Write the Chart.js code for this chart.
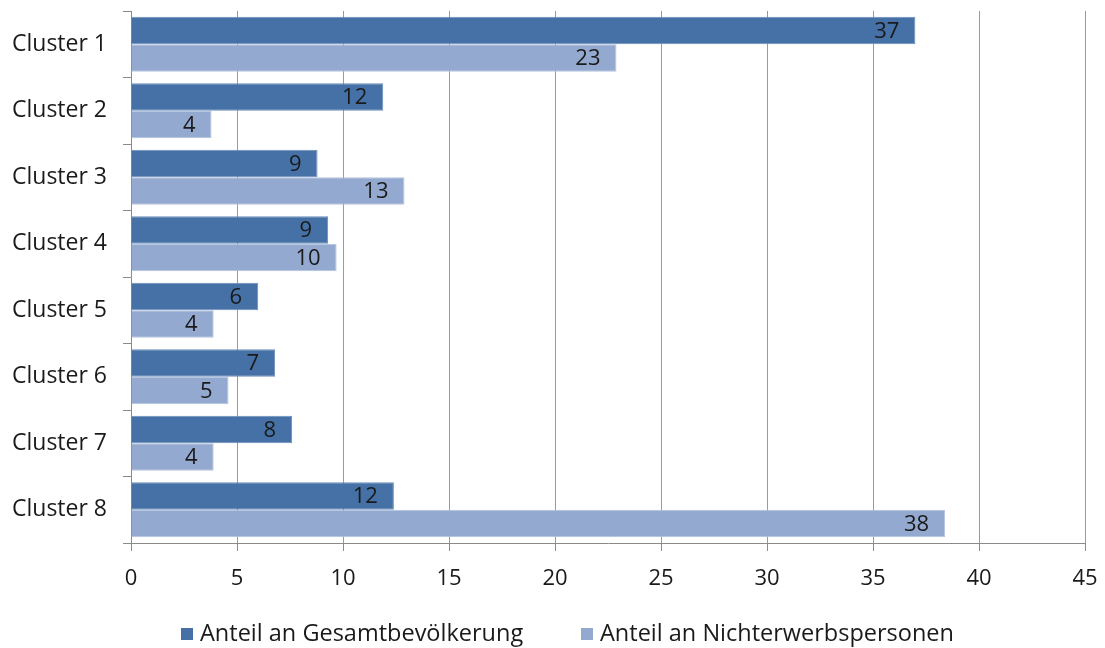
<!DOCTYPE html>
<html>
<head>
<meta charset="utf-8">
<script src="https://cdn.jsdelivr.net/npm/chart.js@4/dist/chart.umd.min.js"></script>
<style>
  html, body { margin: 0; padding: 0; background: #fff; }
  #wrap { width: 1105px; height: 648px; }
</style>
</head>
<body>
<div id="wrap"><canvas id="chart" width="1105" height="648"></canvas></div>
<script>
// Daten
const clusters = ["Cluster 1", "Cluster 2", "Cluster 3", "Cluster 4", "Cluster 5", "Cluster 6", "Cluster 7", "Cluster 8"];
const gesamtbevoelkerung = [37.0, 11.9, 8.8, 9.3, 6.0, 6.8, 7.6, 12.4];
const nichterwerbspersonen = [22.9, 3.8, 12.9, 9.7, 3.9, 4.6, 3.9, 38.4];
const seriesNames = ["Anteil an Gesamtbevölkerung", "Anteil an Nichterwerbspersonen"];
const xMax = 45;
const xStep = 5;

const FONT = "'Open Sans', 'DejaVu Sans', sans-serif";
const TXT = "#1a1a1a";

// Werte am Balkenende (innen) zeichnen
const barLabels = {
    id: "barLabels",
    afterDatasetsDraw(chart) {
        const ctx = chart.ctx;
        ctx.save();
        ctx.font = "22px " + FONT;
        ctx.fillStyle = TXT;
        ctx.textAlign = "right";
        ctx.textBaseline = "middle";
        chart.data.datasets.forEach((ds, i) => {
            chart.getDatasetMeta(i).data.forEach((bar, j) => {
                ctx.fillText(Math.round(ds.data[j]), bar.x - 16, bar.y + 1);
            });
        });
        ctx.restore();
    }
};

// Legende unten, selbst gezeichnet (Abstand wie im Original)
const bottomLegend = {
    id: "bottomLegend",
    afterDraw(chart) {
        const ctx = chart.ctx;
        const starts = [181, 581];
        const y = 634;
        ctx.save();
        ctx.font = "23.5px " + FONT;
        ctx.textBaseline = "middle";
        ctx.textAlign = "left";
        chart.data.datasets.forEach((ds, i) => {
            ctx.fillStyle = ds.backgroundColor;
            ctx.fillRect(starts[i], y - 6, 12, 12);
            ctx.fillStyle = TXT;
            ctx.fillText(ds.label, starts[i] + 19, y);
        });
        ctx.restore();
    }
};

new Chart(document.getElementById("chart"), {
    type: "bar",
    data: {
        labels: clusters,
        datasets: [
            { label: seriesNames[0], data: gesamtbevoelkerung, backgroundColor: "#4571a6", borderColor: "#6a8ebc", borderWidth: 1 },
            { label: seriesNames[1], data: nichterwerbspersonen, backgroundColor: "#93a9cf", borderColor: "#b3c4e0", borderWidth: 1 }
        ]
    },
    options: {
        indexAxis: "y",
        responsive: false,
        animation: false,
        layout: { padding: { top: 11, right: 20, left: 0, bottom: 45 } },
        datasets: { bar: { categoryPercentage: 0.83, barPercentage: 1.0 } },
        plugins: {
            legend: { display: false },
            tooltip: { enabled: false }
        },
        scales: {
            x: {
                min: 0,
                max: xMax,
                ticks: { stepSize: xStep, font: { family: FONT, size: 22 }, color: TXT, padding: 15 },
                grid: {
                    color: c => c.tick && c.tick.value === 0 ? "rgba(0,0,0,0)" : "#9a9a9a",
                    borderDash: [3, 3],
                    tickBorderDash: [],
                    tickColor: "#8a8a8a",
                    tickLength: 8,
                    lineWidth: 1
                },
                border: { color: "#8a8a8a", width: 1 },
                afterFit: s => { s.height = 60; s.paddingRight = 0; s.paddingLeft = 0; }
            },
            y: {
                ticks: { font: { family: FONT, size: 23 }, color: TXT, padding: 16 },
                grid: { drawOnChartArea: false, tickLength: 8, color: "#8a8a8a" },
                border: { color: "#8a8a8a", width: 1 },
                afterFit: s => { s.width = 131; s.paddingTop = 0; s.paddingBottom = 0; }
            }
        }
    },
    plugins: [barLabels, bottomLegend]
});
</script>
</body>
</html>
